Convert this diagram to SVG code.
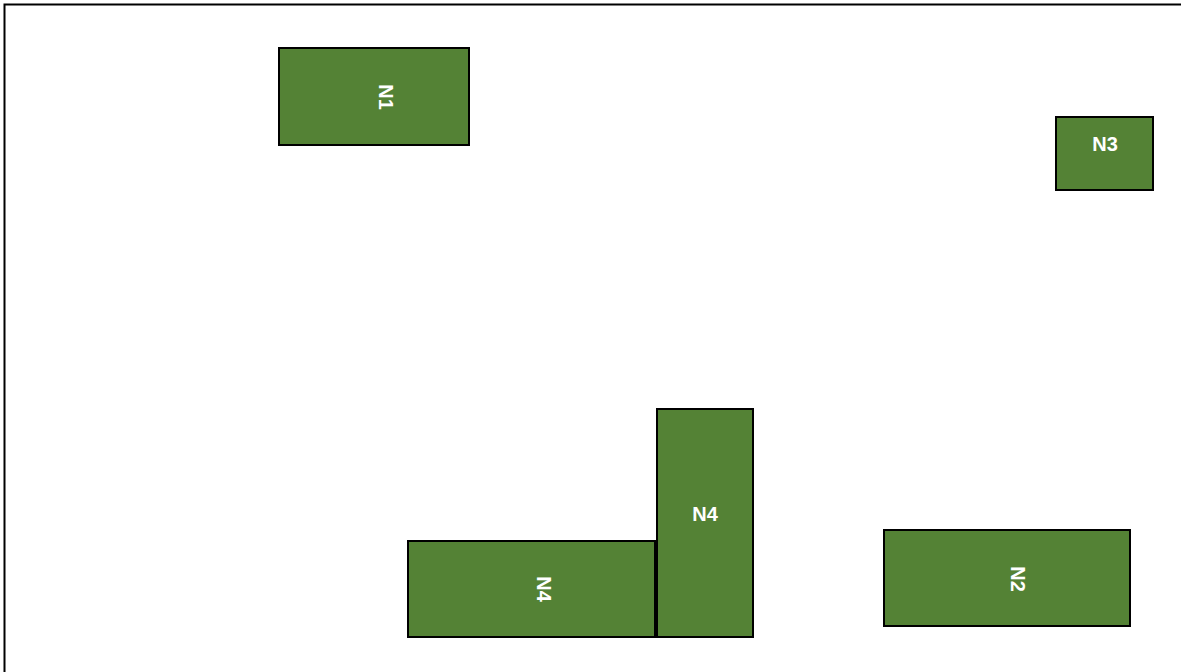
<svg xmlns="http://www.w3.org/2000/svg" width="1181" height="672" viewBox="0 0 1181 672">
<style>
.box{fill:#548235;stroke:#000;stroke-width:2}
.lbl{fill:#fff;font-family:"Liberation Sans",Arial,sans-serif;font-weight:bold;font-size:20px;text-anchor:middle;dominant-baseline:central}
</style>
<rect x="0" y="0" width="1181" height="672" fill="#fff"/>
<rect x="4.5" y="4.5" width="1200" height="700" fill="none" stroke="#000" stroke-width="2"/>
<g id="connectors"></g>
<g id="N1">
<rect class="box" x="279" y="48" width="190" height="97"/>
<text class="lbl" transform="translate(385.5,97) rotate(90)" x="0" y="0">N1</text>
</g>
<g id="N3">
<rect class="box" x="1056" y="117" width="97" height="73"/>
<text class="lbl" x="1105" y="143.5">N3</text>
</g>
<g id="N4a">
<rect class="box" x="657" y="409" width="96" height="228"/>
<text class="lbl" x="705" y="514">N4</text>
</g>
<g id="N4b">
<rect class="box" x="408" y="541" width="247" height="96"/>
<text class="lbl" transform="translate(544,589) rotate(90)" x="0" y="0">N4</text>
</g>
<g id="N2">
<rect class="box" x="884" y="530" width="246" height="96"/>
<text class="lbl" transform="translate(1018,579) rotate(90)" x="0" y="0">N2</text>
</g>
</svg>
